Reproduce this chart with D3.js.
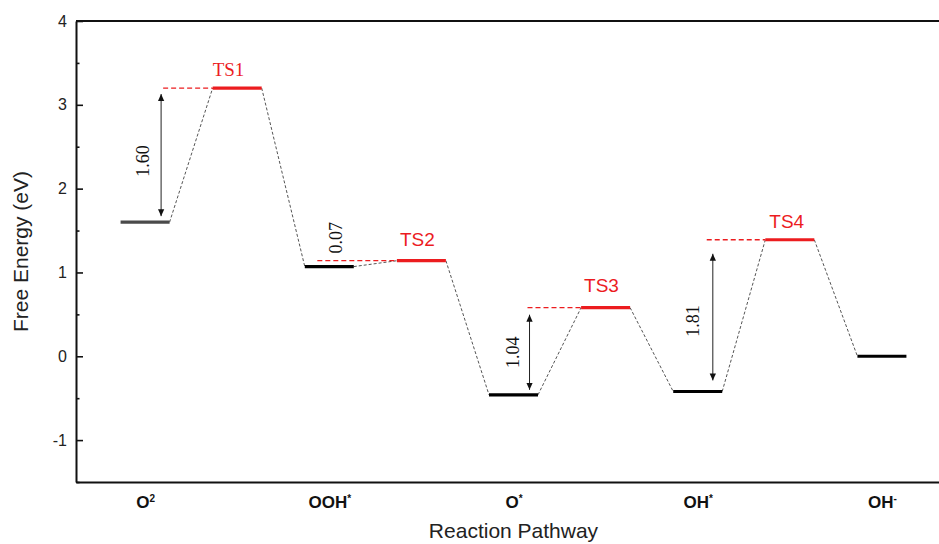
<!DOCTYPE html>
<html>
<head>
<meta charset="utf-8">
<script src="https://cdn.jsdelivr.net/npm/d3@7"></script>
<style>
  body { margin: 0; background: #fff; }
  svg { display: block; }
</style>
</head>
<body>
<svg id="chart" width="939" height="544"></svg>
<script>
// ---- data ----
const steps = ["O2", "OOH*", "O*", "OH*", "OH-"];
const stepBase = ["O", "OOH", "O", "OH", "OH"];
const stepSup = ["2", "*", "*", "*", "-"];
const stateEnergies = [1.60, 1.07, -0.46, -0.42, 0.00];   // eV
const barriers = [1.60, 0.07, 1.04, 1.81];                // eV, TS above preceding state
const tsNames = ["TS1", "TS2", "TS3", "TS4"];
const yTicks = [-1, 0, 1, 2, 3, 4];
const yMinorTicks = [-1.5, -0.5, 0.5, 1.5, 2.5, 3.5];

// ---- layout ----
const svg = d3.select("#chart");
const plotL = 76, plotR = 951, plotT = 21, plotB = 482;
const x = d3.scaleLinear().domain([-0.375, 4.375]).range([plotL, plotR]);
const y = d3.scaleLinear().domain([-1.5, 4]).range([plotB, plotT]);
const halfW = 0.133;              // half width of a level bar, in step units
const red = "#ec1c1f";
const sans = "Arial, 'Liberation Sans', Helvetica, sans-serif";
const serif = "'Times New Roman', 'Liberation Serif', serif";

// per-transition-state annotation layout
const tsLayout = [
  { font: serif, size: 19, dx: 0, dy: -12, arrow: 0.087, dash: 0.098, gapT: 6, gapB: 6, lx: -18, ly: 6 },
  { font: sans,  size: 19, dx: 3, dy: -15, arrow: null,  dash: -0.065, textX: 7, textBottom: 13 },
  { font: sans,  size: 19, dx: 3, dy: -15.5, arrow: 0.087, dash: 0.076, gapT: 7, gapB: 5, lx: -17, ly: 0 },
  { font: sans,  size: 19, dx: 4, dy: -12, arrow: 0.082, dash: 0.049, gapT: 14, gapB: 11, lx: -20, ly: 4 }
];

// energy levels in pathway order: state, TS, state, TS, ...
const levels = [];
stateEnergies.forEach((e, i) => {
  levels.push({ pos: i, e, kind: "state", i });
  if (i < barriers.length) levels.push({ pos: i + 0.5, e: e + barriers[i], kind: "ts", i });
});

// ---- axes ----
const yAxis = d3.axisLeft(y).tickValues(yTicks).tickSize(-7).tickSizeOuter(0).tickPadding(9)
  .tickFormat(d => String(d));
const gy = svg.append("g").attr("transform", `translate(${plotL},0)`).call(yAxis);
gy.select(".domain").attr("stroke", "#111").attr("stroke-width", 2);
gy.selectAll(".tick line").attr("stroke", "#111").attr("stroke-width", 1.6);
gy.selectAll(".tick text").attr("font-family", sans).attr("font-size", 16).attr("fill", "#222");

const gyMinor = svg.append("g").attr("transform", `translate(${plotL},0)`)
  .call(d3.axisLeft(y).tickValues(yMinorTicks).tickSize(-3.5).tickSizeOuter(0).tickFormat(""));
gyMinor.select(".domain").remove();
gyMinor.selectAll(".tick line").attr("stroke", "#111").attr("stroke-width", 1.6);

const xAxis = d3.axisBottom(x).tickValues(d3.range(steps.length)).tickSize(0).tickSizeOuter(0)
  .tickPadding(15).tickFormat("");
const gx = svg.append("g").attr("transform", `translate(0,${plotB})`).call(xAxis);
gx.select(".domain").attr("stroke", "#111").attr("stroke-width", 2);
gx.selectAll(".tick text").each(function (d) {
  const t = d3.select(this)
    .attr("font-family", sans).attr("font-weight", "bold").attr("font-size", 17)
    .attr("fill", "#111").attr("dy", null).attr("y", 26);
  t.append("tspan").text(stepBase[d]);
  t.append("tspan").attr("font-size", 10).attr("dy", -6).text(stepSup[d]);
});

// top frame line
svg.append("line")
  .attr("x1", plotL).attr("x2", plotR).attr("y1", plotT).attr("y2", plotT)
  .attr("stroke", "#111").attr("stroke-width", 2);

// axis titles
svg.append("text")
  .attr("transform", `translate(28,${(plotT + plotB) / 2}) rotate(-90)`)
  .attr("text-anchor", "middle").attr("font-family", sans).attr("font-size", 21)
  .attr("fill", "#222").text("Free Energy (eV)");
svg.append("text")
  .attr("x", (plotL + plotR) / 2).attr("y", 538)
  .attr("text-anchor", "middle").attr("font-family", sans).attr("font-size", 21)
  .attr("fill", "#222").text("Reaction Pathway");

// ---- connectors between consecutive levels ----
const px = p => x(p);
const halfPx = x(halfW) - x(0);
svg.append("g").selectAll("line").data(d3.pairs(levels)).join("line")
  .attr("x1", ([a]) => px(a.pos) + halfPx).attr("y1", ([a]) => y(a.e))
  .attr("x2", ([, b]) => px(b.pos) - halfPx).attr("y2", ([, b]) => y(b.e))
  .attr("stroke", "#555").attr("stroke-width", 1).attr("stroke-dasharray", "3,2");

// ---- red dashed reference lines at TS height ----
const tsLevels = levels.filter(l => l.kind === "ts");
svg.append("g").selectAll("line").data(tsLevels).join("line")
  .attr("x1", d => px(d.i + tsLayout[d.i].dash)).attr("x2", d => px(d.pos) - halfPx)
  .attr("y1", d => y(d.e)).attr("y2", d => y(d.e))
  .attr("stroke", red).attr("stroke-width", 1.3).attr("stroke-dasharray", "5,3");

// ---- level bars ----
svg.append("g").selectAll("line").data(levels).join("line")
  .attr("x1", d => px(d.pos) - halfPx).attr("x2", d => px(d.pos) + halfPx)
  .attr("y1", d => y(d.e)).attr("y2", d => y(d.e))
  .attr("stroke", d => d.kind === "ts" ? red : (d.i === 0 ? "#4a4a4a" : "#000"))
  .attr("stroke-width", 3.2);

// ---- TS labels ----
svg.append("g").selectAll("text").data(tsLevels).join("text")
  .attr("x", d => px(d.pos) - halfPx + tsLayout[d.i].dx)
  .attr("y", d => y(d.e) + tsLayout[d.i].dy)
  .attr("font-family", d => tsLayout[d.i].font)
  .attr("font-size", d => tsLayout[d.i].size)
  .attr("fill", red).text(d => tsNames[d.i]);

// ---- barrier arrows and values ----
const defs = svg.append("defs");
defs.append("marker").attr("id", "head").attr("viewBox", "0 0 10 10")
  .attr("refX", 10).attr("refY", 5).attr("markerWidth", 7).attr("markerHeight", 7)
  .attr("markerUnits", "userSpaceOnUse").attr("orient", "auto-start-reverse")
  .append("path").attr("d", "M0,0.5 L10,5 L0,9.5 Z").attr("fill", "#111");

const ann = svg.append("g");
tsLevels.forEach(d => {
  const L = tsLayout[d.i];
  const base = stateEnergies[d.i];
  const label = barriers[d.i].toFixed(2);
  if (L.arrow !== null) {
    const ax = px(d.i + L.arrow);
    const y1 = y(d.e) + L.gapT, y2 = y(base) - L.gapB;
    ann.append("line")
      .attr("x1", ax).attr("x2", ax).attr("y1", y1).attr("y2", y2)
      .attr("stroke", "#222").attr("stroke-width", 1)
      .attr("marker-start", "url(#head)").attr("marker-end", "url(#head)");
    ann.append("text")
      .attr("transform", `translate(${ax + L.lx},${(y1 + y2) / 2 + L.ly}) rotate(-90)`)
      .attr("text-anchor", "middle").attr("dominant-baseline", "central")
      .attr("font-family", serif).attr("font-size", 18).attr("fill", "#111").text(label);
  } else {
    ann.append("text")
      .attr("transform", `translate(${px(d.i) + L.textX},${y(base) - L.textBottom}) rotate(-90)`)
      .attr("text-anchor", "start").attr("dominant-baseline", "central")
      .attr("font-family", serif).attr("font-size", 18).attr("fill", "#111").text(label);
  }
});
</script>
</body>
</html>
